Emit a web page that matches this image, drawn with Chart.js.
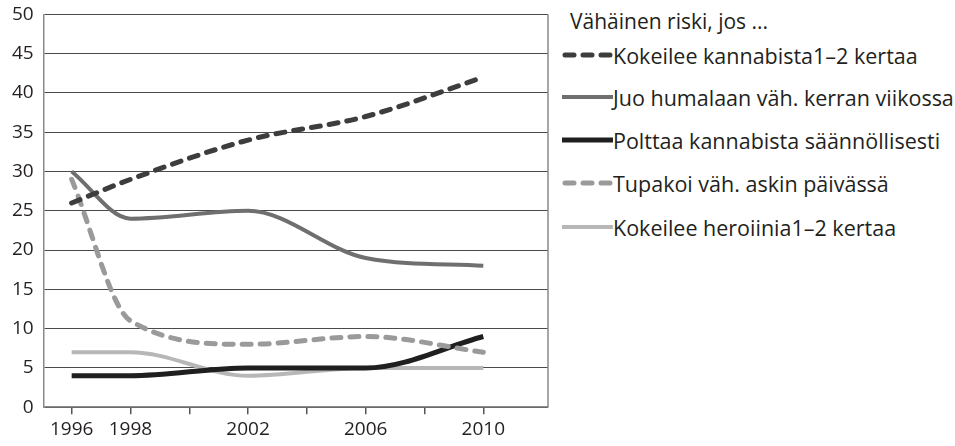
<!DOCTYPE html>
<html>
<head>
<meta charset="utf-8">
<script src="https://cdn.jsdelivr.net/npm/chart.js@4/dist/chart.umd.min.js"></script>
<style>
  html, body { margin: 0; padding: 0; background: #fff; overflow: hidden; }
  #wrap { position: relative; width: 955px; height: 446px; overflow: hidden; font-family: "Open Sans", sans-serif; color: #231f20; }
  #chartBox { position: absolute; left: 2px; top: -7px; width: 558px; height: 452px; }
  #legend { position: absolute; left: 562px; top: 0; }
  .title { position: absolute; left: 8px; top: 6px; font-size: 21px; line-height: 30px; white-space: nowrap; }
  .item { position: absolute; left: 0; height: 26px; display: flex; align-items: center; white-space: nowrap; font-size: 21.5px; }
  .item svg { width: 51px; height: 10px; margin-right: 0px; }
</style>
</head>
<body>
<div id="wrap">
  <div id="chartBox"><canvas id="c"></canvas></div>
  <div id="legend"></div>
</div>
<script>
const years = [1996, 1998, 2002, 2006, 2010];
const tickYears = [1996, 1998, 2000, 2002, 2004, 2006, 2008, 2010];
const legendTitle = "Vähäinen riski, jos ...";
const seriesNames = [
  "Kokeilee kannabista1–2 kertaa",
  "Juo humalaan väh. kerran viikossa",
  "Polttaa kannabista säännöllisesti",
  "Tupakoi väh. askin päivässä",
  "Kokeilee heroiinia1–2 kertaa"
];
const kannabisKokeilu = [26, 29, 34, 37, 42];
const humalaViikoittain = [30, 24, 25, 19, 18];
const kannabisSaannollisesti = [4, 4, 5, 5, 9];
const tupakkaAski = [29, 11, 8, 9, 7];
const heroiiniKokeilu = [7, 7, 4, 5, 5];

const seriesValues = [kannabisKokeilu, humalaViikoittain, kannabisSaannollisesti, tupakkaAski, heroiiniKokeilu];
const styles = [
  { color: '#3d3d3d', width: 5, dash: [9, 9] },
  { color: '#6f6f6f', width: 4, dash: [] },
  { color: '#1f1f1f', width: 5, dash: [] },
  { color: '#9a9a9b', width: 5, dash: [9, 9] },
  { color: '#b7b7b8', width: 4, dash: [] }
];
const drawOrder = [1, 3, 4, 2, 5];

const datasets = seriesNames.map((name, i) => ({
  label: name,
  data: years.map((y, j) => ({ x: y, y: seriesValues[i][j] })),
  borderColor: styles[i].color,
  backgroundColor: styles[i].color,
  borderWidth: styles[i].width,
  borderDash: styles[i].dash,
  borderCapStyle: styles[i].dash.length ? 'round' : 'butt',
  borderJoinStyle: 'round',
  pointRadius: 0,
  cubicInterpolationMode: 'monotone',
  order: drawOrder[i],
  fill: false
}));

const frame = {
  id: 'frame',
  afterDatasetsDraw(chart) {
    const a = chart.chartArea, ctx = chart.ctx;
    ctx.save();
    ctx.strokeStyle = '#8a8a8a';
    ctx.lineWidth = 1.5;
    ctx.beginPath();
    ctx.moveTo(a.right, a.top);
    ctx.lineTo(a.right, a.bottom);
    ctx.stroke();
    ctx.restore();
  }
};

new Chart(document.getElementById('c'), {
  type: 'line',
  data: { datasets },
  plugins: [frame],
  options: {
    responsive: true,
    maintainAspectRatio: false,
    animation: false,
    layout: { padding: { top: 4, right: 12, left: 0, bottom: 0 } },
    plugins: { legend: { display: false }, tooltip: { enabled: false } },
    scales: {
      x: {
        type: 'linear',
        min: 1995.05,
        max: 2012.2,
        afterBuildTicks: (s) => { s.ticks = tickYears.map(v => ({ value: v })); },
        ticks: {
          autoSkip: false,
          maxRotation: 0,
          padding: 4,
          color: '#231f20',
          font: { family: 'Open Sans', size: 19 },
          callback: (v) => years.includes(v) ? String(v) : ''
        },
        grid: { drawOnChartArea: false, drawTicks: true, tickLength: 7, color: '#555', lineWidth: 1.5 },
        border: { display: true, color: '#8a8a8a', width: 1.5 }
      },
      y: {
        min: 0,
        max: 50,
        ticks: { stepSize: 5, padding: 10, color: '#231f20', font: { family: 'Open Sans', size: 19 } },
        grid: { color: '#4a4a4a', lineWidth: 1, drawTicks: false },
        border: { display: true, color: '#8a8a8a', width: 1.5 }
      }
    }
  }
});

// HTML legend
const leg = document.getElementById('legend');
const t = document.createElement('div');
t.className = 'title';
t.textContent = legendTitle;
leg.appendChild(t);
const rowTops = [42, 84, 127, 170, 214];
seriesNames.forEach((name, i) => {
  const d = document.createElement('div');
  d.className = 'item';
  d.style.top = rowTops[i] + 'px';
  const st = styles[i];
  const cap = st.dash.length ? 'round' : 'butt';
  const da = st.dash.length ? `stroke-dasharray="${st.dash.join(' ')}"` : '';
  d.innerHTML = `<svg viewBox="0 0 51 10"><line x1="${st.dash.length ? 3 : 0}" y1="5" x2="${st.dash.length ? 48 : 51}" y2="5" stroke="${st.color}" stroke-width="${st.width}" stroke-linecap="${cap}" ${da}/></svg><span></span>`;
  d.querySelector('span').textContent = name;
  leg.appendChild(d);
});
</script>
</body>
</html>
